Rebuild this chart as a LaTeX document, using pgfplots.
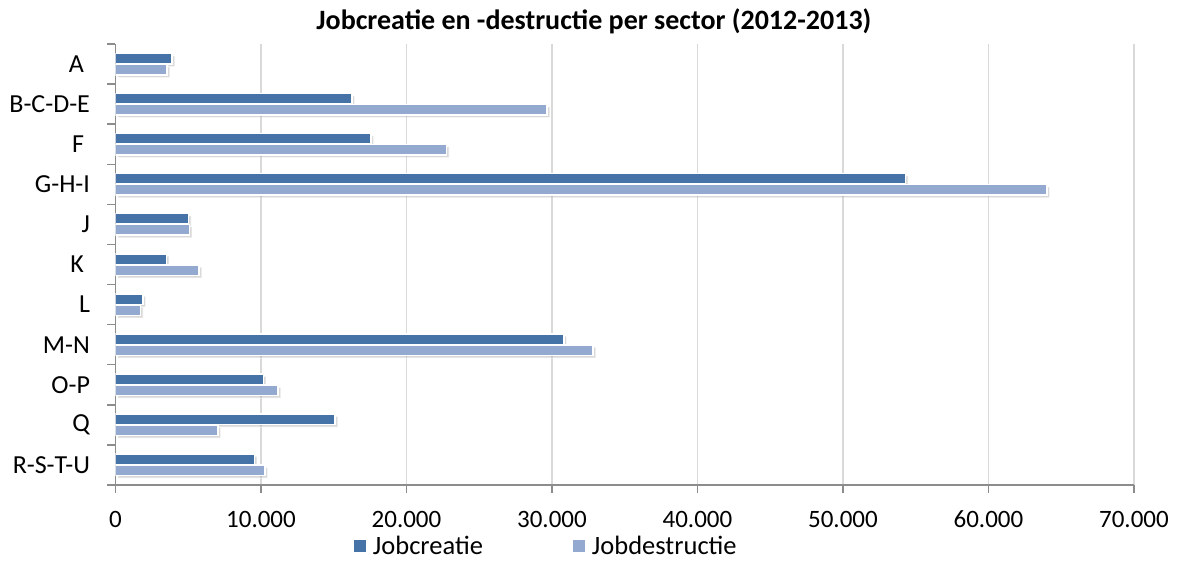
\documentclass[border=0pt]{standalone}
\usepackage{pgfplots}
\pgfplotsset{compat=1.18}
\usepackage{fontspec}
\setmainfont{Carlito}
\usetikzlibrary{shadows}
\definecolor{darkbar}{HTML}{4572A7}
\definecolor{lightbar}{HTML}{93A9CF}
\definecolor{axisgray}{HTML}{8C8C8C}
\definecolor{gridgray}{HTML}{D9D9D9}
\begin{document}
\begin{tikzpicture}
\begin{axis}[
  at={(0,0)}, anchor=south west,
  scale only axis,
  width=1018.5pt, height=441pt,
  xbar, bar width=10.5pt,
  xmin=0, xmax=70000,
  ymin=-0.5, ymax=10.5,
  y dir=reverse,
  axis x line*=bottom, axis y line*=left,
  axis line style={draw=axisgray, line width=1.8pt},
  xmajorgrids, major grid style={draw=gridgray, line width=1.5pt},
  xtick={0,10000,...,70000},
  xticklabels={0,10.000,20.000,30.000,40.000,50.000,60.000,70.000},
  scaled x ticks=false,
  tick align=outside,
  major tick length=8pt,
  tick style={draw=axisgray, line width=1.5pt},
  ytick={-0.5,0.5,...,10.5},
  yticklabels={},
  extra y ticks={0,1,2,3,4,5,6,7,8,9,10},
  extra y tick labels={A\hspace*{6pt},B-C-D-E,F\hspace*{6pt},G-H-I,J,K\hspace*{6pt},L,M-N,O-P,Q,R-S-T-U},
  extra y tick style={major tick length=0pt, tick style={draw=none}},
  xticklabel style={font=\fontsize{25}{30}\selectfont, yshift=-14.5pt},
  yticklabel style={font=\fontsize{26}{31}\selectfont, anchor=east, xshift=-22pt},
  title={Jobcreatie en -destructie per sector (2012-2013)},
  title style={font=\bfseries\fontsize{28}{33}\selectfont, at={(axis description cs:0.4698,1)}, anchor=base, yshift=8pt},
  legend style={at={(axis description cs:0.423,-0.138)}, anchor=center, draw=none, fill=none,
    font=\fontsize{26.5}{31}\selectfont, legend columns=2,
    /tikz/every odd column/.append style={column sep=5pt},
    /tikz/every even column/.append style={column sep=88pt}},
  legend image code/.code={\fill[#1] (0pt,-6pt) rectangle (12pt,6pt);},
]
\addplot[fill=darkbar, draw=white, line width=1.5pt, forget plot, bar shift=5.5pt,
  drop shadow={shadow xshift=2.5pt, shadow yshift=-2.5pt, opacity=0.3}]
  coordinates {(3900,0) (16250,1) (17560,2) (54310,3) (5030,4) (3490,5) (1890,6) (30820,7) (10160,8) (15090,9) (9540,10)};
\addplot[fill=lightbar, draw=white, line width=1.5pt, forget plot, bar shift=-5.5pt,
  drop shadow={shadow xshift=2.5pt, shadow yshift=-2.5pt, opacity=0.3}]
  coordinates {(3540,0) (29660,1) (22760,2) (64020,3) (5070,4) (5740,5) (1730,6) (32820,7) (11170,8) (7040,9) (10270,10)};
\addlegendimage{fill=darkbar, draw=none}
\addlegendentry{Jobcreatie}
\addlegendimage{fill=lightbar, draw=none}
\addlegendentry{Jobdestructie}
\end{axis}
\pgfresetboundingbox
\path[use as bounding box] (-115.5pt,-76pt) rectangle (1061.5pt,485pt);
\end{tikzpicture}
\end{document}
